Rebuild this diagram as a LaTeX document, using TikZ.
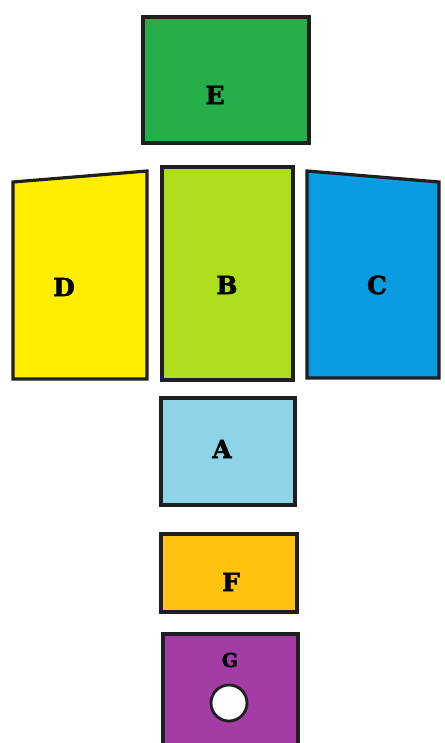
\documentclass[tikz,border=0pt]{standalone}
\usepackage{fontspec}
\setmainfont{DejaVu Serif}
\newfontfamily\tagfont{DejaVu Serif}[BoldFeatures={FakeBold=2}]
\definecolor{zoneE}{HTML}{25AE4A}
\definecolor{zoneD}{HTML}{FFEE00}
\definecolor{zoneB}{HTML}{AEDD1E}
\definecolor{zoneC}{HTML}{0A9CE0}
\definecolor{zoneA}{HTML}{8ED3E8}
\definecolor{zoneF}{HTML}{FFC20E}
\definecolor{zoneG}{HTML}{A33DA5}
\tikzset{
  zone/.style={draw=black!88, line width=3.2pt, line join=miter},
  tag/.style={font=\tagfont\fontsize{25}{25}\selectfont\bfseries, text=black, inner sep=0pt},
  smalltag/.style={tag, font=\tagfont\fontsize{19}{19}\selectfont\bfseries},
}

\begin{document}
\begin{tikzpicture}[x=1pt, y=-1pt]
    \useasboundingbox (0,0) rectangle (444,743);
    % blocks
    \filldraw[zone, fill=zoneE] (143,17) rectangle (309,143);
    \filldraw[zone, fill=zoneD] (13,182) -- (147,171) -- (147,379) -- (13,379) -- cycle;
    \filldraw[zone, fill=zoneB] (162,167) rectangle (293,380);
    \filldraw[zone, fill=zoneC] (307,171) -- (439,182) -- (439,378) -- (307,378) -- cycle;
    \filldraw[zone, fill=zoneA] (161,398) rectangle (295,505);
    \filldraw[zone, fill=zoneF] (161,534) rectangle (297,612);
    \fill[zoneG] (163,634) rectangle (298,743);
    \draw[zone] (163,743) -- (163,634) -- (298,634) -- (298,743);
    \filldraw[zone, line width=2.8pt, fill=white] (229,703) circle (18);
    % labels
    \node[tag] (e) at (215,95) {E};
    \node[tag] (d) at (64,287) {D};
    \node[tag] (b) at (227,285) {B};
    \node[tag] (c) at (377,285) {C};
    \node[tag] (a) at (222,449) {A};
    \node[tag] (f) at (231,582) {F};
    \node[smalltag] (g) at (230,660) {G};
  \end{tikzpicture}
\end{document}
